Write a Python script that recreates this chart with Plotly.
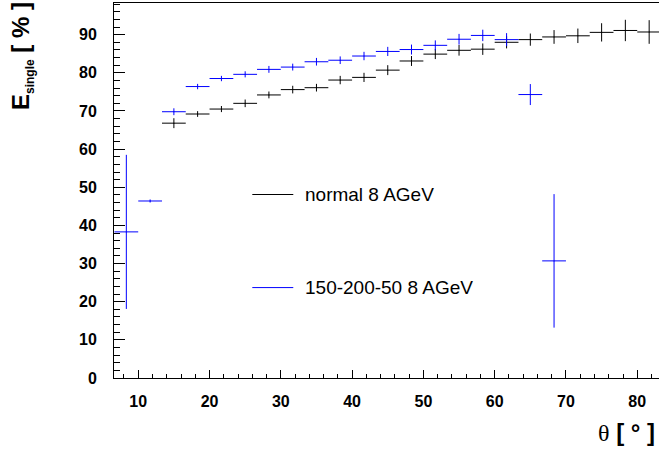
import plotly.graph_objects as go

# ---- data ----
theta_normal = [15.0, 18.33, 21.67, 25.0, 28.33, 31.67, 35.0, 38.33, 41.67, 45.0,
                48.33, 51.67, 55.0, 58.33, 61.67, 65.0, 68.33, 71.67, 75.0, 78.33, 81.67]
eff_normal = [66.8, 69.2, 70.5, 72.0, 74.2, 75.6, 76.1, 78.1, 78.8, 80.7,
              83.1, 84.9, 85.9, 86.2, 88.0, 88.7, 89.4, 89.7, 90.6, 91.1, 90.7]
err_normal = [1.3, 0.75, 0.8, 1.0, 0.9, 1.0, 1.0, 1.1, 1.2, 1.3,
              1.3, 1.3, 1.4, 1.5, 1.6, 1.6, 1.8, 1.9, 2.4, 2.8, 3.1]

theta_mod = [8.33, 11.67, 15.0, 18.33, 21.67, 25.0, 28.33, 31.67, 35.0, 38.33,
             41.67, 45.0, 48.33, 51.67, 55.0, 58.33, 61.67, 65.0, 68.33]
eff_mod = [38.3, 46.4, 69.8, 76.4, 78.5, 79.6, 80.9, 81.5, 82.9, 83.3,
           84.4, 85.6, 86.1, 87.2, 88.8, 89.8, 88.7, 74.3, 30.7]
err_mod = [20.2, 0.4, 0.9, 0.7, 0.7, 0.8, 0.9, 0.9, 1.0, 1.0,
           1.1, 1.2, 1.3, 1.3, 1.4, 1.5, 1.7, 2.75, 17.5]

bin_half_width = 1.6667
label_normal = "normal 8 AGeV"
label_mod = "150-200-50 8 AGeV"
x_ticks = [10, 20, 30, 40, 50, 60, 70, 80]
y_ticks = [0, 10, 20, 30, 40, 50, 60, 70, 80, 90]

# ---- figure ----
fig = go.Figure()

def add_series(x, y, e, color, name):
    fig.add_trace(go.Scatter(
        x=x, y=y, mode="markers", name=name, showlegend=False,
        marker=dict(size=1, color=color),
        error_x=dict(type="constant", value=bin_half_width, thickness=1, width=0, color=color),
        error_y=dict(type="data", array=e, thickness=1, width=0, color=color),
    ))

add_series(theta_normal, eff_normal, err_normal, "black", label_normal)
add_series(theta_mod, eff_mod, err_mod, "blue", label_mod)

tick_font = dict(family="Liberation Sans, Arial, sans-serif", size=16, color="black")

fig.update_layout(
    width=659, height=452,
    margin=dict(l=114, r=0, t=3, b=74),
    paper_bgcolor="white", plot_bgcolor="white",
    font=dict(family="Liberation Sans, Arial, sans-serif", color="black"),
    xaxis=dict(
        range=[6.6, 83.05], tickvals=x_ticks, ticktext=[f"<b>{v}</b>" for v in x_ticks],
        ticks="inside", ticklen=8, tickwidth=1, tickcolor="black",
        minor=dict(ticks="inside", dtick=2, ticklen=4, tickwidth=1, tickcolor="black"),
        showgrid=False, zeroline=False, showline=True, linecolor="black", linewidth=1,
        mirror=True, tickfont=tick_font, ticklabelstandoff=9,
    ),
    yaxis=dict(
        range=[0, 98.3], tickvals=y_ticks, ticktext=[f"<b>{v}</b>" for v in y_ticks],
        ticks="inside", ticklen=11, tickwidth=1, tickcolor="black",
        minor=dict(ticks="inside", dtick=2, ticklen=6, tickwidth=1, tickcolor="black"),
        showgrid=False, zeroline=False, showline=True, linecolor="black", linewidth=1,
        mirror=False, tickfont=tick_font, ticklabelstandoff=13,
    ),
)

# legend (ROOT style, no box)
leg_font = dict(family="Liberation Sans, Arial, sans-serif", size=19, color="black")
for ly, col, lab in [(48.1, "black", label_normal), (23.7, "blue", label_mod)]:
    fig.add_shape(type="line", xref="x", yref="y", x0=26.0, x1=31.75, y0=ly, y1=ly,
                  line=dict(color=col, width=1))
    fig.add_annotation(x=33.1, y=ly, xref="x", yref="y", text=lab, showarrow=False,
                       xanchor="left", yanchor="middle", font=leg_font)

# axis titles
fig.add_annotation(
    xref="paper", yref="paper", x=(22 - 114) / 545, y=1.008,
    text="<b>E<sub><span style='font-size:12px'>single</span></sub> [ % ]</b>",
    textangle=-90, showarrow=False,
    xanchor="center", yanchor="top",
    font=dict(family="Liberation Sans, Arial, sans-serif", size=24, color="black"),
)
fig.add_annotation(
    xref="paper", yref="paper", x=(657 - 114) / 545, y=(378.3 - 433) / 375,
    text="<span style='font-family:Liberation Serif'>θ</span><b> [ ° ]</b>",
    showarrow=False, xanchor="right", yanchor="middle",
    font=dict(family="Liberation Sans, Arial, sans-serif", size=24, color="black"),
)

fig.write_html("out.html", config={"displayModeBar": False},
               post_script="document.body.style.margin='0';document.body.style.overflow='hidden';")
